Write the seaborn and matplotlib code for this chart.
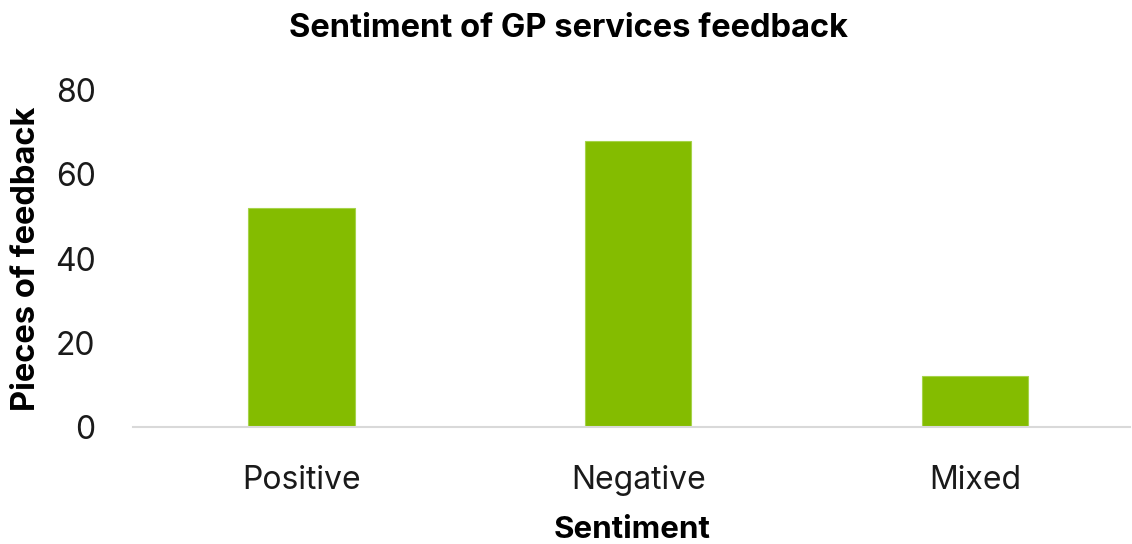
import matplotlib
matplotlib.use("Agg")
import matplotlib.pyplot as plt
import seaborn as sns
import pandas as pd

categories = ["Positive", "Negative", "Mixed"]
counts = [52, 68, 12]
y_ticks = [0, 20, 40, 60, 80]

sns.set_theme(style="white")
plt.rcParams["font.family"] = ["Inter", "DejaVu Sans"]

df = pd.DataFrame({"Sentiment": categories, "Pieces": counts})

fig = plt.figure(figsize=(11.32, 5.44), dpi=100)
ax = fig.add_axes([0.1175, 0.215, 0.881, 0.6195])

sns.barplot(data=df, x="Sentiment", y="Pieces", color="#84bc00",
            saturation=1, width=0.315, ax=ax,
            edgecolor="#a6d34a", linewidth=0.8)

ax.set_xlim(-0.5, 2.46)
ax.set_ylim(0, 80)
ax.set_yticks(y_ticks)
ax.set_yticklabels([str(v) for v in y_ticks], fontsize=23, color="#1a1a1a")
ax.tick_params(axis="x", labelsize=23, colors="#1a1a1a", pad=27.5, length=0)
ax.tick_params(axis="y", pad=27, length=0)

for side in ["top", "right", "left"]:
    ax.spines[side].set_visible(False)
ax.spines["bottom"].set_color("#d9d9d9")
ax.spines["bottom"].set_linewidth(1.5)

ax.set_xlabel("Sentiment", fontsize=22.5, fontweight="bold", color="black")
ax.set_ylabel("Pieces of feedback", fontsize=23.5, fontweight="bold", color="black")
ax.xaxis.set_label_coords(0.5, -0.306)
ax.xaxis.label.set_va("center")
ax.yaxis.set_label_coords(-0.1063, 0.5)
ax.yaxis.label.set_va("center")
fig.text(0.5025, 0.948, "Sentiment of GP services feedback", ha="center", va="center",
         fontsize=23.5, fontweight="bold", color="black")

fig.savefig("out.png", dpi=100, facecolor="white")
